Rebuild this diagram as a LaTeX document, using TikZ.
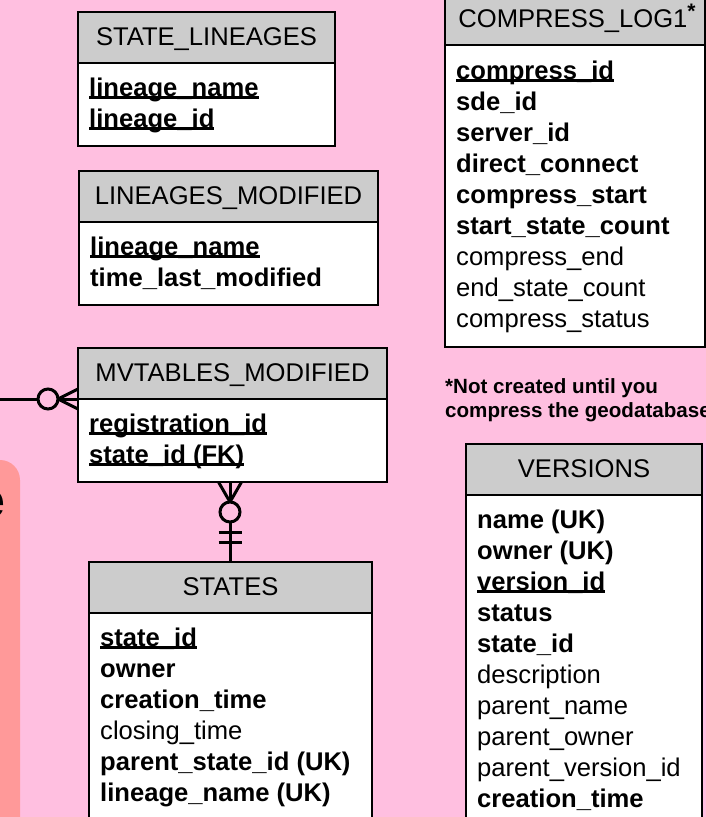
\documentclass[tikz,border=0pt]{standalone}
\usepackage{fontspec}
\setmainfont{Liberation Sans}
\definecolor{bgpink}{HTML}{FFBFE0}
\definecolor{salmon}{HTML}{FF9999}
\definecolor{hdrgray}{HTML}{CCCCCC}
\newcommand\pkey[1]{\setbox0\hbox{#1}\rlap{\raisebox{-2.8pt}{\rule{\wd0}{2.4pt}}}\box0}
\tikzset{
  hdr/.style={draw, line width=2pt, fill=hdrgray, minimum height=51pt, anchor=north west, inner sep=0pt, outer sep=0pt},
  tbody/.style={draw, line width=2pt, fill=white, anchor=north west, inner sep=0pt, outer sep=0pt},
  field/.style={anchor=base west, inner sep=0pt},
  ttl/.style={anchor=base, inner sep=0pt},
  conn/.style={line width=3pt},
  ring/.style={circle, draw, line width=3pt, minimum size=20pt, inner sep=0pt, outer sep=0pt},
  note/.style={anchor=base west, inner sep=0pt, font=\fontsize{20.6}{23}\selectfont\bfseries},
}
\begin{document}
\begin{tikzpicture}[x=1pt,y=-1pt,font=\fontsize{25.6}{31}\selectfont]
\useasboundingbox (0,0) rectangle (706,817);
\clip (0,0) rectangle (706,817);
\fill[bgpink] (0,0) rectangle (706,817);
\fill[salmon, rounded corners=20pt] (-60,460) rectangle (20,900);
\node[anchor=base east, inner sep=0pt, font=\fontsize{50}{50}\selectfont\bfseries] (bige) at (6,517) {e};

% STATE_LINEAGES
\node[hdr, minimum width=257pt] (slh) at (78,12) {};
\node[tbody, minimum width=257pt, minimum height=83pt] (slb) at (78,63) {};
\node[ttl] (slt) at (206.5,45) {STATE\_LINEAGES};
\node[field] (sl1) at (89,96) {\bfseries\pkey{lineage\_name}};
\node[field] (sl2) at (89,127) {\bfseries\pkey{lineage\_id}};

% LINEAGES_MODIFIED
\node[hdr, minimum width=299pt] (lmh) at (79,171) {};
\node[tbody, minimum width=299pt, minimum height=83pt] (lmb) at (79,222) {};
\node[ttl] (lmt) at (228.5,204) {LINEAGES\_MODIFIED};
\node[field] (lm1) at (90,255) {\bfseries\pkey{lineage\_name}};
\node[field] (lm2) at (90,286) {\bfseries time\_last\_modified};

% COMPRESS_LOG1
\node[hdr, minimum width=260pt] (clh) at (445,-6) {};
\node[tbody, minimum width=260pt, minimum height=302pt] (clb) at (445,45) {};
\node[ttl] (clt) at (577,27) {COMPRESS\_LOG1\raisebox{9pt}{\fontsize{21}{21}\selectfont\bfseries *}};
\node[field] (cl1) at (456,79) {\bfseries\pkey{compress\_id}};
\node[field] (cl2) at (456,110) {\bfseries sde\_id};
\node[field] (cl3) at (456,141) {\bfseries server\_id};
\node[field] (cl4) at (456,172) {\bfseries direct\_connect};
\node[field] (cl5) at (456,203) {\bfseries compress\_start};
\node[field] (cl6) at (456,234) {\bfseries start\_state\_count};
\node[field] (cl7) at (456,265) {compress\_end};
\node[field] (cl8) at (456,296) {end\_state\_count};
\node[field] (cl9) at (456,327) {compress\_status};

% footnote
\node[note] (fn1) at (445,393) {*Not created until you};
\node[note] (fn2) at (445,417) {compress the geodatabase};

% MVTABLES_MODIFIED
\node[hdr, minimum width=309pt] (mvh) at (78,348) {};
\node[tbody, minimum width=309pt, minimum height=83pt] (mvb) at (78,399) {};
\node[ttl] (mvt) at (232.5,381) {MVTABLES\_MODIFIED};
\node[field] (mv1) at (89,432) {\bfseries\pkey{registration\_id}};
\node[field] (mv2) at (89,463) {\bfseries\pkey{state\_id (FK)}};

% STATES
\node[hdr, minimum width=283pt] (sth) at (89,562) {};
\node[tbody, minimum width=283pt, minimum height=300pt] (stb) at (89,613) {};
\node[ttl] (stt) at (230.5,595) {STATES};
\node[field] (st1) at (100,646) {\bfseries\pkey{state\_id}};
\node[field] (st2) at (100,677) {\bfseries owner};
\node[field] (st3) at (100,708) {\bfseries creation\_time};
\node[field] (st4) at (100,739) {closing\_time};
\node[field] (st5) at (100,770) {\bfseries parent\_state\_id (UK)};
\node[field] (st6) at (100,801) {\bfseries lineage\_name (UK)};

% VERSIONS
\node[hdr, minimum width=236pt] (vh) at (466,444) {};
\node[tbody, minimum width=236pt, minimum height=400pt] (vb) at (466,495) {};
\node[ttl] (vt) at (584,477) {VERSIONS};
\node[field] (v1) at (477,528) {\bfseries name (UK)};
\node[field] (v2) at (477,559) {\bfseries owner (UK)};
\node[field] (v3) at (477,590) {\bfseries\pkey{version\_id}};
\node[field] (v4) at (477,621) {\bfseries status};
\node[field] (v5) at (477,652) {\bfseries state\_id};
\node[field] (v6) at (477,683) {description};
\node[field] (v7) at (477,714) {parent\_name};
\node[field] (v8) at (477,745) {parent\_owner};
\node[field] (v9) at (477,776) {parent\_version\_id};
\node[field] (v10) at (477,807) {\bfseries creation\_time};

% left connector (zero-or-many into MVTABLES_MODIFIED)
\coordinate (lft) at (0,399);
\node[ring] (c1) at (48,399) {};
\draw[conn] (lft) -- (c1.west);
\draw[conn] (c1.east) -- (mvh.south west);
\draw[conn] (c1.east) -- ([yshift=10pt]mvh.south west);
\draw[conn] (c1.east) -- ([yshift=-10pt]mvh.south west);

% vertical connector MVTABLES_MODIFIED -- STATES
\coordinate (mvfoot) at (230,482);
\node[ring] (c2) at (230,512) {};
\draw[conn] (c2.north) -- (mvfoot);
\draw[conn] (c2.north) -- ([xshift=-11.5pt]mvfoot);
\draw[conn] (c2.north) -- ([xshift=11.5pt]mvfoot);
\draw[conn] (c2.south) -- (c2 |- sth.north);
\coordinate (bar1) at (230,532);
\coordinate (bar2) at (230,542);
\draw[conn] ([xshift=-11.5pt]bar1) -- ([xshift=11.5pt]bar1);
\draw[conn] ([xshift=-11.5pt]bar2) -- ([xshift=11.5pt]bar2);
\end{tikzpicture}
\end{document}
